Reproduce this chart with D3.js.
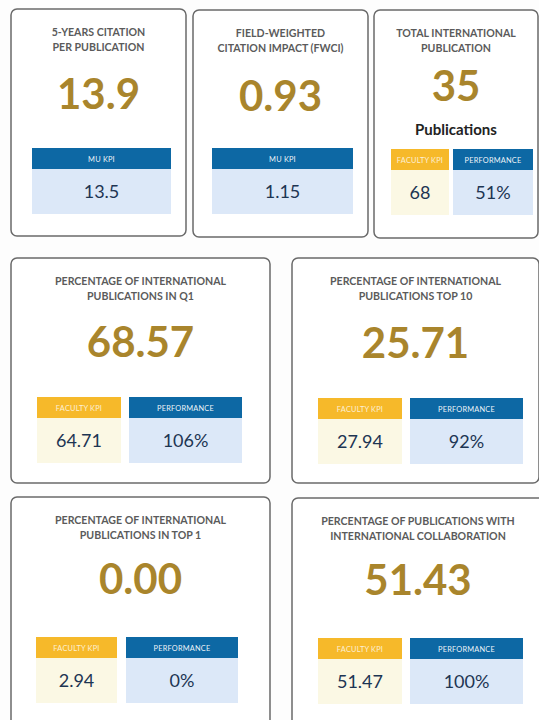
<!DOCTYPE html>
<html>
<head>
<meta charset="utf-8">
<script src="https://cdn.jsdelivr.net/npm/d3@7"></script>
<style>
  body { margin: 0; background: #ffffff; }
  svg { display: block; }
</style>
</head>
<body>
<div id="dash"></div>
<script>
// KPI dashboard: 7 cards, each with headline value + KPI boxes

const FRAME_WIDTH = 539;
const FRAME_HEIGHT = 720;

// Data
const TITLES = [
  ["5-YEARS CITATION", "PER PUBLICATION"],
  ["FIELD-WEIGHTED", "CITATION IMPACT (FWCI)"],
  ["TOTAL INTERNATIONAL", "PUBLICATION"],
  ["PERCENTAGE OF INTERNATIONAL", "PUBLICATIONS IN Q1"],
  ["PERCENTAGE OF INTERNATIONAL", "PUBLICATIONS TOP 10"],
  ["PERCENTAGE OF INTERNATIONAL", "PUBLICATIONS IN TOP 1"],
  ["PERCENTAGE OF PUBLICATIONS WITH", "INTERNATIONAL COLLABORATION"]
];
const MAIN_VALUES = ["13.9", "0.93", "35", "68.57", "25.71", "0.00", "51.43"];
const SUBTITLES = [null, null, "Publications", null, null, null, null];
const KPI_LABELS = ["MU KPI", "MU KPI", "FACULTY KPI", "FACULTY KPI", "FACULTY KPI", "FACULTY KPI", "FACULTY KPI"];
const KPI_VALUES = ["13.5", "1.15", "68", "64.71", "27.94", "2.94", "51.47"];
const PERFORMANCE = [null, null, "51%", "106%", "92%", "0%", "100%"];

// Card layout (pixels)
const CARDS = [
  {x: 11,  y: 9,   w: 175, h: 227, numY: 109, fs: 42, hy: 148, boxes: [[21, 160]]},
  {x: 193, y: 10,  w: 175, h: 227, numY: 111, fs: 42, hy: 148, boxes: [[19, 160]]},
  {x: 374, y: 10,  w: 164, h: 228, numY: 101, fs: 42, hy: 149, boxes: [[17, 75], [79, 159]]},
  {x: 11,  y: 258, w: 259, h: 225, numY: 357, fs: 42, hy: 397, boxes: [[26, 110], [118, 231]]},
  {x: 292, y: 258, w: 247, h: 225, numY: 358, fs: 42, hy: 398, boxes: [[26, 110], [118, 231]]},
  {x: 11,  y: 497, w: 259, h: 240, numY: 594, fs: 42, hy: 637, boxes: [[25, 106], [115, 227]]},
  {x: 292, y: 498, w: 252, h: 240, numY: 595, fs: 42, hy: 638, boxes: [[26, 110], [118, 231]]}
];
const HEAD_H = 21;
const BOX_H = 45;

const GOLD = "#a9852c";
const TITLE_GREY = "#5b5b5b";
const BLUE = "#0d68a4";
const YELLOW = "#f6b92a";
const LIGHT_BLUE = "#dce8f8";
const LIGHT_YELLOW = "#fbf8e4";
const NAVY = "#1d3553";
const FONT = "Lato, 'Open Sans', sans-serif";

const SVG = d3.select("#dash")
  .append("svg")
    .attr("width", FRAME_WIDTH)
    .attr("height", FRAME_HEIGHT);

SVG.append("rect")
  .attr("width", FRAME_WIDTH)
  .attr("height", FRAME_HEIGHT)
  .attr("fill", "#fdfdfd");

const cardData = CARDS.map((c, i) => ({
  c: c,
  title: TITLES[i],
  main: MAIN_VALUES[i],
  sub: SUBTITLES[i],
  kpiLabel: KPI_LABELS[i],
  kpi: KPI_VALUES[i],
  perf: PERFORMANCE[i]
}));

const card = SVG.selectAll("g.card")
  .data(cardData)
  .enter()
  .append("g")
    .attr("class", "card");

// Card frame
card.append("rect")
  .attr("x", (d) => d.c.x)
  .attr("y", (d) => d.c.y)
  .attr("width", (d) => d.c.w)
  .attr("height", (d) => d.c.h)
  .attr("rx", 6)
  .attr("fill", "#ffffff")
  .attr("stroke", "#6a6a6a")
  .attr("stroke-width", 1.5);

card.each(function(d) {
  const g = d3.select(this);
  const cx = d.c.x + d.c.w / 2;

  // Two-line title
  d.title.forEach((line, k) => {
    g.append("text")
      .attr("x", cx)
      .attr("y", d.c.y + 27 + k * 15)
      .attr("text-anchor", "middle")
      .attr("font-family", FONT)
      .attr("font-weight", 700)
      .attr("font-size", "10.6px")
      .attr("fill", TITLE_GREY)
      .text(line);
  });

  // Headline value
  g.append("text")
    .attr("x", cx)
    .attr("y", d.c.numY)
    .attr("text-anchor", "middle")
    .attr("font-family", FONT)
    .attr("font-weight", 700)
    .attr("font-size", d.c.fs + "px")
    .attr("fill", GOLD)
    .text(d.main);

  if (d.sub) {
    g.append("text")
      .attr("x", cx)
      .attr("y", d.c.numY + 34)
      .attr("text-anchor", "middle")
      .attr("font-family", FONT)
      .attr("font-weight", 700)
      .attr("font-size", "15px")
      .attr("fill", "#222222")
      .text(d.sub);
  }

  // KPI boxes: first is KPI (blue if single, yellow otherwise), second is performance
  const boxes = d.c.boxes.map((b, k) => {
    const single = d.c.boxes.length === 1;
    if (k === 0) {
      return {x0: b[0], x1: b[1], label: d.kpiLabel, value: d.kpi,
              head: single ? BLUE : YELLOW, body: single ? LIGHT_BLUE : LIGHT_YELLOW};
    }
    return {x0: b[0], x1: b[1], label: "PERFORMANCE", value: d.perf,
            head: BLUE, body: LIGHT_BLUE};
  });

  boxes.forEach((b) => {
    const bx = d.c.x + b.x0;
    const bw = b.x1 - b.x0;
    g.append("rect")
      .attr("x", bx)
      .attr("y", d.c.hy + HEAD_H)
      .attr("width", bw)
      .attr("height", BOX_H)
      .attr("fill", b.body);
    g.append("rect")
      .attr("x", bx)
      .attr("y", d.c.hy)
      .attr("width", bw)
      .attr("height", HEAD_H)
      .attr("fill", b.head);
    g.append("text")
      .attr("x", bx + bw / 2)
      .attr("y", d.c.hy + 13.5)
      .attr("text-anchor", "middle")
      .attr("font-family", FONT)
      .attr("font-size", "7.4px")
      .attr("letter-spacing", "0.2px")
      .attr("fill", "#ffffff")
      .attr("fill-opacity", b.head === YELLOW ? 0.8 : 0.95)
      .text(b.label);
    g.append("text")
      .attr("x", bx + bw / 2)
      .attr("y", d.c.hy + HEAD_H + 29)
      .attr("text-anchor", "middle")
      .attr("font-family", FONT)
      .attr("font-size", "18px")
      .attr("fill", NAVY)
      .text(b.value);
  });
});
</script>
</body>
</html>
